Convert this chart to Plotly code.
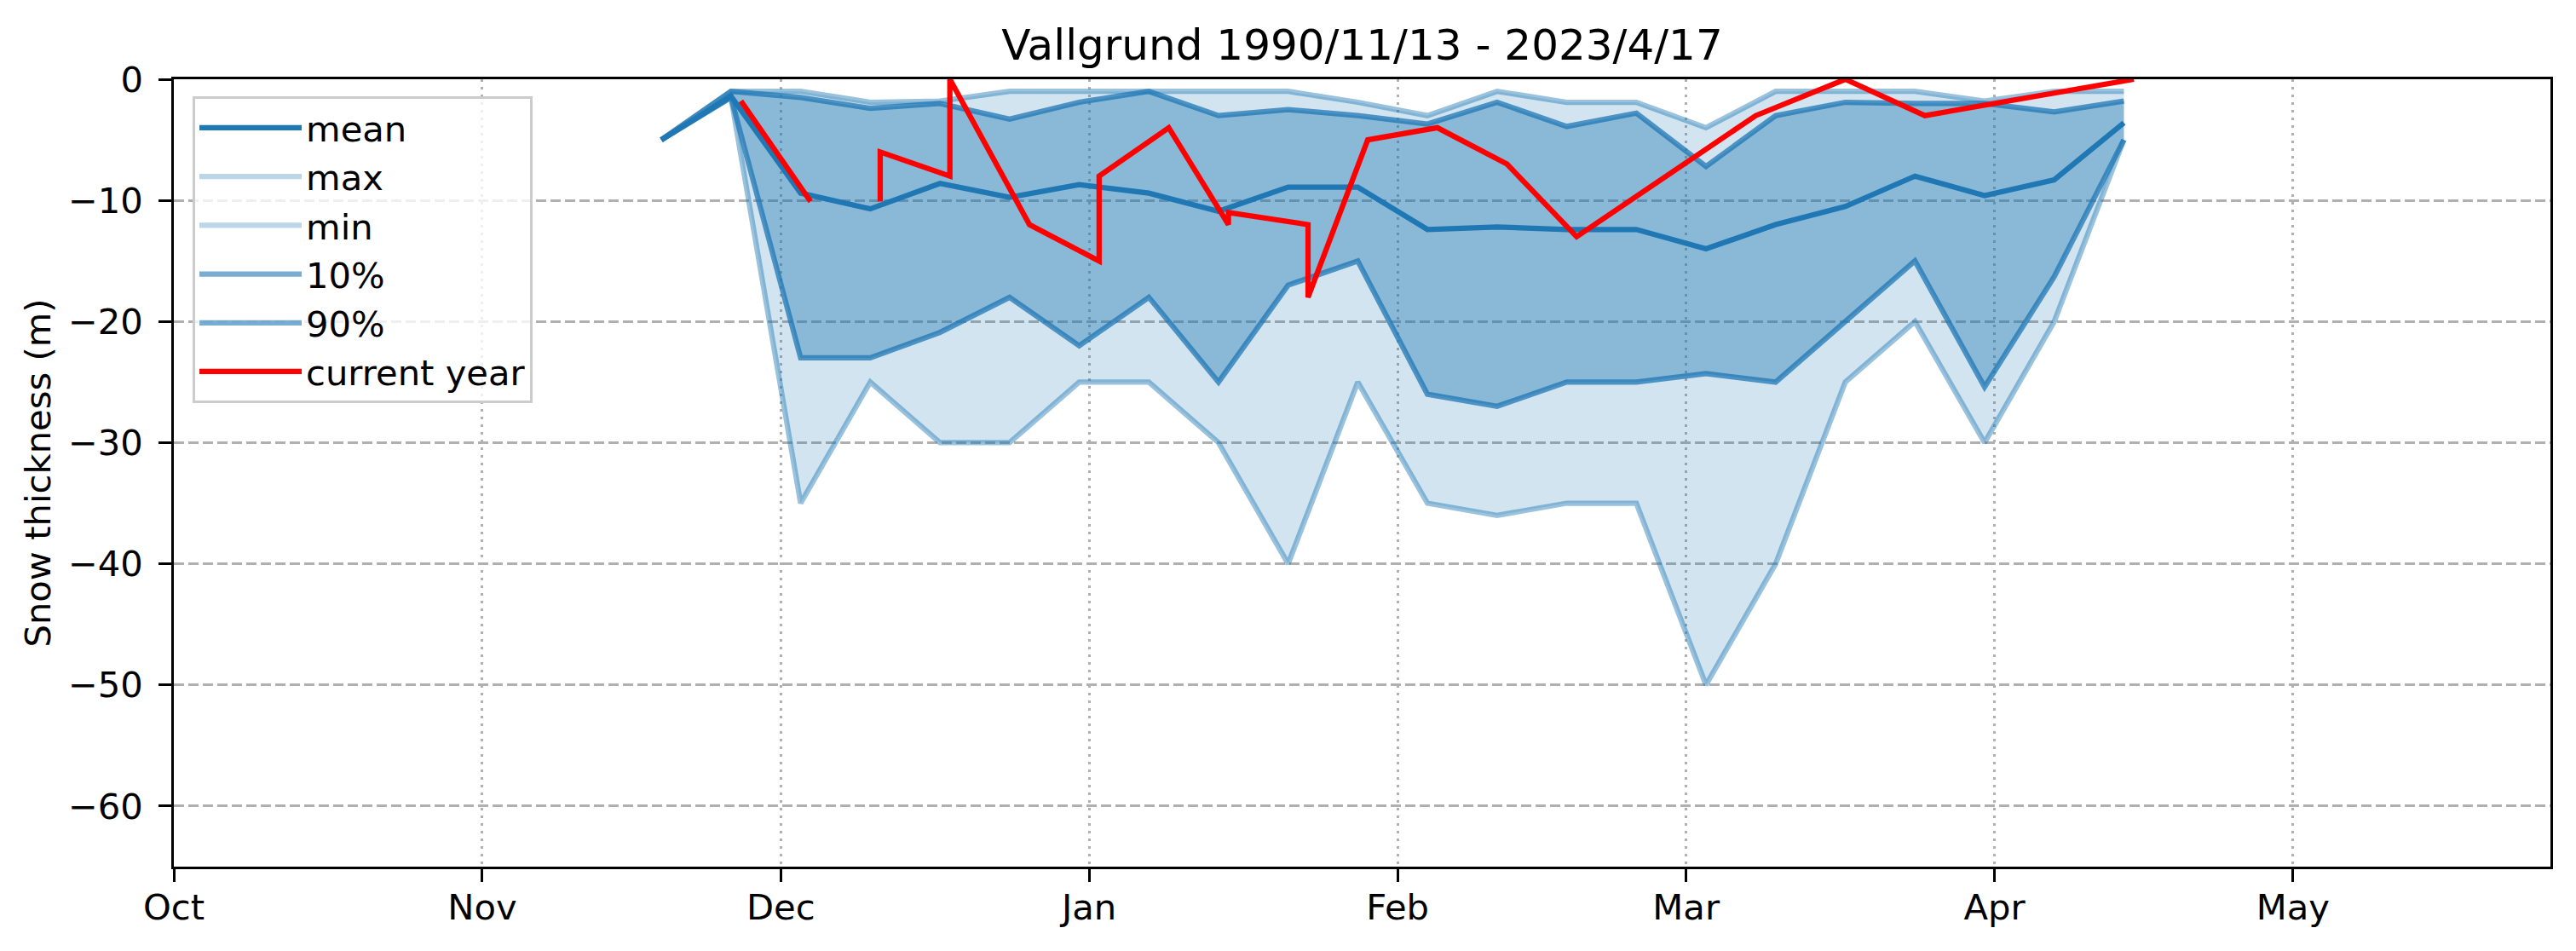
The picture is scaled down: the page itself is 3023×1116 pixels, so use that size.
import plotly.graph_objects as go

# ---------------- data ----------------
dates = ["2023-11-19", "2023-11-26", "2023-12-03", "2023-12-10", "2023-12-17",
         "2023-12-24", "2023-12-31", "2024-01-07", "2024-01-14", "2024-01-21",
         "2024-01-28", "2024-02-04", "2024-02-11", "2024-02-18", "2024-02-25",
         "2024-03-03", "2024-03-10", "2024-03-17", "2024-03-24", "2024-03-31",
         "2024-04-07", "2024-04-14"]
mean_vals = [-5, -1.4, -9.4, -10.7, -8.6, -9.75, -8.7, -9.4, -10.9, -8.9,
             -8.9, -12.4, -12.2, -12.4, -12.4, -14.0, -12.0, -10.5, -8.0, -9.6,
             -8.3, -3.6]
max_vals = [-5, -1, -1, -1.9, -1.8, -1, -1, -1, -1, -1,
            -1.9, -3, -1, -1.9, -1.9, -4, -1, -1, -1, -1.8,
            -1, -1]
min_vals = [-5, -1.5, -35, -25, -30, -30, -25, -25, -30, -40,
            -25, -35, -36, -35, -35, -50, -40, -25, -20, -30,
            -20, -5]
p10_vals = [-5, -1.5, -23, -23, -20.9, -18, -22, -18, -25, -17,
            -15, -26, -27, -25, -25, -24.3, -25, -20, -15, -25.4,
            -16.3, -5]
p90_vals = [-5, -1, -1.5, -2.4, -2.0, -3.3, -1.9, -1, -3, -2.5,
            -3, -3.7, -1.9, -3.9, -2.8, -7.2, -3, -1.9, -2, -2,
            -2.7, -1.8]

cur_dates = ["2023-11-27", "2023-12-04", "2023-12-07", "2023-12-11", "2023-12-11",
             "2023-12-18", "2023-12-18", "2023-12-26", "2024-01-02", "2024-01-02",
             "2024-01-09", "2024-01-15", "2024-01-15", "2024-01-23", "2024-01-23",
             "2024-01-29", "2024-02-05", "2024-02-12", "2024-02-19", "2024-03-08",
             "2024-03-17", "2024-03-25", "2024-04-01", "2024-04-15"]
cur_vals = [-1.8, -10.1, None, -10.1, -6,
            -8, 0, -12, -15, -8,
            -4, -12, -11, -12, -18,
            -5, -4, -7, -13, -3,
            0, -3, -2, 0]

month_ticks = ["2023-10-01", "2023-11-01", "2023-12-01", "2024-01-01", "2024-02-01",
               "2024-03-01", "2024-04-01", "2024-05-01"]
month_labels = ["Oct", "Nov", "Dec", "Jan", "Feb", "Mar", "Apr", "May"]
y_ticks = [-60, -50, -40, -30, -20, -10, 0]

title_text = "Vallgrund 1990/11/13 - 2023/4/17"
y_label = "Snow thickness (m)"
legend_names = ["mean", "max", "min", "10%", "90%", "current year"]

# ---------------- styling ----------------
C0 = "31,119,180"
FONT = "DejaVu Sans"
FS = 41.7
LW = 6.25

fig = go.Figure()

# fills (hidden from legend)
fig.add_trace(go.Scatter(x=dates, y=min_vals, mode="lines", line=dict(width=0),
                         showlegend=False, hoverinfo="skip"))
fig.add_trace(go.Scatter(x=dates, y=max_vals, mode="lines", line=dict(width=0),
                         fill="tonexty", fillcolor=f"rgba({C0},0.2)",
                         showlegend=False, hoverinfo="skip"))
fig.add_trace(go.Scatter(x=dates, y=p10_vals, mode="lines", line=dict(width=0),
                         showlegend=False, hoverinfo="skip"))
fig.add_trace(go.Scatter(x=dates, y=p90_vals, mode="lines", line=dict(width=0),
                         fill="tonexty", fillcolor=f"rgba({C0},0.4)",
                         showlegend=False, hoverinfo="skip"))

# visible lines (legend handled by separate entries below)
fig.add_trace(go.Scatter(x=dates, y=max_vals, mode="lines", showlegend=False,
                         line=dict(color=f"rgba({C0},0.45)", width=LW)))
fig.add_trace(go.Scatter(x=dates, y=min_vals, mode="lines", showlegend=False,
                         line=dict(color=f"rgba({C0},0.45)", width=LW)))
fig.add_trace(go.Scatter(x=dates, y=p10_vals, mode="lines", showlegend=False,
                         line=dict(color=f"rgba({C0},0.75)", width=LW)))
fig.add_trace(go.Scatter(x=dates, y=p90_vals, mode="lines", showlegend=False,
                         line=dict(color=f"rgba({C0},0.75)", width=LW)))

# legend entries
legend_colors = [f"rgb({C0})", f"rgba({C0},0.3)", f"rgba({C0},0.3)",
                 f"rgba({C0},0.6)", f"rgba({C0},0.6)", "#ff0000"]
fig.add_trace(go.Scatter(x=dates, y=mean_vals, mode="lines", name=legend_names[0],
                         line=dict(color=legend_colors[0], width=LW)))
for nm, col in zip(legend_names[1:5], legend_colors[1:5]):
    fig.add_trace(go.Scatter(x=[None], y=[None], mode="lines", name=nm,
                             line=dict(color=col, width=LW)))
fig.add_trace(go.Scatter(x=cur_dates, y=cur_vals, mode="lines", name=legend_names[5],
                         connectgaps=False,
                         line=dict(color=legend_colors[5], width=LW)))

axis_common = dict(
    showline=True, linecolor="black", linewidth=3.3, mirror=True,
    ticks="outside", ticklen=14.6, tickwidth=3.3, tickcolor="black",
    tickfont=dict(family=FONT, size=FS, color="black"),
    showgrid=True, gridcolor="#b0b0b0", gridwidth=3, zeroline=False,
)

fig.update_layout(
    width=3023, height=1116,
    margin=dict(l=204, r=30, t=93, b=99, autoexpand=False),
    paper_bgcolor="white", plot_bgcolor="white",
    font=dict(family=FONT, size=FS, color="black"),
    title=dict(text=title_text, font=dict(family=FONT, size=50, color="black"),
               x=0.5, xref="paper", xanchor="center",
               y=1 - 52 / 1116, yref="container", yanchor="middle"),
    xaxis=dict(type="date", range=["2023-10-01", "2024-05-26 21:00"],
               tickmode="array", tickvals=month_ticks, ticktext=month_labels,
               griddash="3px,6px", ticklabelstandoff=-6, **axis_common),
    yaxis=dict(range=[-65, 0], tickmode="array", tickvals=y_ticks,
               griddash="12px,5px", ticklabelstandoff=10,
               title=dict(text=y_label, font=dict(family=FONT, size=FS, color="black"),
                          standoff=8),
               **axis_common),
    legend=dict(x=0.0079, y=0.978, xanchor="left", yanchor="top",
                traceorder="normal",
                bgcolor="rgba(255,255,255,0.8)", bordercolor="#cccccc", borderwidth=3,
                font=dict(family=FONT, size=FS, color="black"),
                itemwidth=120, tracegroupgap=0),
    showlegend=True,
)

fig.write_html("out.html", config={"displayModeBar": False},
               post_script="document.body.style.margin='0';")
